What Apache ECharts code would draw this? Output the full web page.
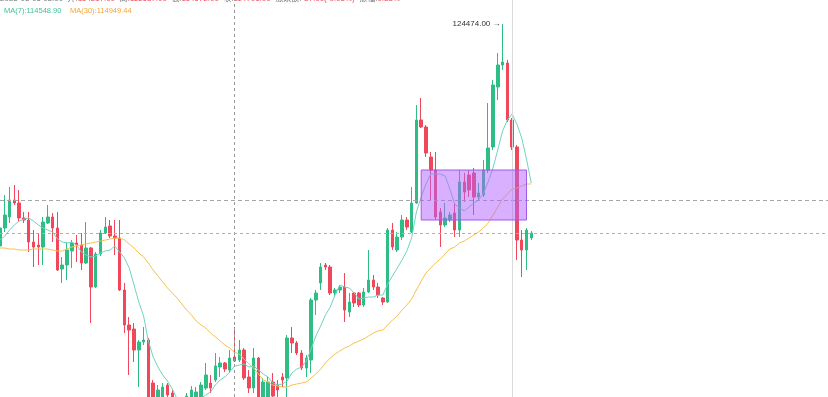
<!DOCTYPE html>
<html>
<head>
<meta charset="utf-8">
<title>K线</title>
<script src="https://cdn.jsdelivr.net/npm/echarts@6/dist/echarts.min.js"></script>
<style>
  html, body { margin: 0; padding: 0; background: #fff; }
  #kline { width: 828px; height: 397px; }
</style>
</head>
<body>
<div id="kline"></div>
<script>
// 4小时K线 [开, 收, 低, 高]
const candles = [
  [118036, 118558, 117920, 118732], [118558, 118935, 118442, 119515], [118877, 119370, 118703, 119747],
  [119370, 119283, 119225, 119805], [119283, 118848, 118732, 119660], [118848, 118790, 118703, 119022],
  [118790, 118152, 117862, 119022], [118152, 118007, 117427, 118500], [118065, 118007, 117485, 118413],
  [118007, 118732, 117485, 118877], [118703, 118877, 118674, 119225], [118877, 118558, 118152, 118993],
  [118558, 117340, 117311, 119022], [117369, 117485, 116963, 117717], [117485, 117920, 117050, 118152],
  [117891, 118123, 117398, 118210], [118123, 118065, 117572, 118355], [118065, 117543, 117340, 118413],
  [117543, 117978, 117514, 118732], [117978, 116847, 115803, 118007], [116847, 117804, 116818, 117862],
  [117804, 118413, 117746, 118500], [118413, 118587, 118384, 118877], [118616, 118326, 118268, 118790],
  [118326, 118268, 117775, 118790], [118268, 116760, 116731, 118790], [116760, 115745, 115513, 116963],
  [115745, 115600, 114295, 115977], [115629, 115020, 114672, 115803], [115020, 115252, 113947, 115310],
  [115252, 115310, 115165, 115687], [115310, 113280, 113135, 115368], [114063, 113425, 113280, 114150],
  [113425, 113860, 113338, 114005], [113570, 113947, 113512, 114063], [114005, 113715, 113628, 114063],
  [113773, 113628, 113512, 113860], [113570, 113280, 113135, 113628], [113338, 113135, 112990, 113483],
  [113280, 113686, 113222, 113773], [113512, 113860, 113454, 113976], [113570, 113802, 113483, 113947],
  [113570, 114005, 113512, 114092], [113918, 114295, 113860, 114643], [114063, 113918, 113773, 114295],
  [114150, 114556, 114092, 114933], [114527, 114643, 114237, 114817], [114643, 114469, 114382, 114672],
  [114440, 114788, 114353, 115020], [114817, 114701, 114672, 115687], [114730, 115020, 114672, 115310],
  [115020, 114208, 114150, 115078], [114237, 113918, 113773, 114440], [113918, 114788, 113773, 115078],
  [114788, 113570, 113425, 114817], [113570, 114092, 113512, 114208], [113657, 114092, 113599, 114237],
  [114092, 113686, 113628, 114353], [114005, 113860, 113657, 114150], [114237, 114150, 113947, 114353],
  [114208, 115368, 113657, 115455], [115368, 115223, 114933, 115687], [115223, 114933, 114875, 115281],
  [114933, 114498, 114440, 115020], [114498, 114788, 114237, 114875], [114730, 116470, 114353, 116528],
  [116470, 116673, 116035, 116760], [116963, 117427, 116760, 117543], [117485, 117427, 117340, 117543],
  [117427, 116673, 116615, 117485], [116673, 116760, 116557, 116818], [116760, 116847, 116673, 116905],
  [116847, 116180, 115832, 117253], [116122, 116412, 115977, 116673], [116673, 116383, 116267, 116702],
  [116673, 116325, 116267, 116702], [116325, 116702, 116267, 116818], [116702, 117050, 116673, 117920],
  [117050, 116847, 116760, 117195], [116847, 116615, 116528, 116963], [116528, 116412, 116325, 116557],
  [116412, 118500, 116383, 118558], [118500, 118007, 117920, 118703], [117920, 118297, 117862, 118442],
  [118297, 118790, 118210, 118935], [118790, 118587, 118500, 118877], [118442, 119283, 118413, 119747],
  [119283, 121690, 119254, 122125], [121690, 121487, 121458, 122328], [121487, 120733, 120617, 121545],
  [120617, 120240, 119370, 120762], [120240, 118877, 118790, 120762], [119022, 118645, 118007, 119138],
  [118645, 118848, 118587, 119283], [118790, 118935, 118732, 119022], [118993, 118500, 118297, 119283],
  [118500, 119892, 118297, 120240], [119892, 119602, 119312, 120153], [120095, 119660, 119457, 120240],
  [120153, 119457, 118935, 120298], [119457, 119573, 119370, 119863], [119515, 120240, 119457, 120530],
  [120240, 120878, 120153, 122183], [120907, 122705, 120820, 122850], [122647, 123285, 122270, 123633],
  [123285, 123372, 123140, 124474], [123343, 121690, 121632, 123430], [121690, 120907, 120820, 121748],
  [120907, 118210, 117630, 120965], [118210, 117920, 117137, 118500], [117920, 118500, 117340, 118558],
  [118268, 118413, 118210, 118471]
];

const maSeven = [
  118210, 118326, 118500, 118645, 118761, 118819, 118848, 118761, 118645, 118558,
  118500, 118442, 118239, 118152, 118123, 118152, 118065, 117862, 117775, 117717,
  117746, 117833, 117891, 117920, 118036, 117862, 117688, 117398, 116905, 116412,
  116006, 115281, 114817, 114527, 114295, 114121, 113889, 113599, 113570, 113599,
  113599, 113599, 113628, 113715, 113802, 114005, 114150, 114237, 114382, 114548.90,
  114585, 114614, 114527, 114556, 114440, 114324, 114237, 114063, 114005, 114034,
  114121, 114353, 114469, 114527, 114701, 115049, 115426, 115716, 116035, 116267,
  116615, 116905, 116847, 116818, 116673, 116499, 116528, 116557, 116557, 116615,
  116615, 116934, 117166, 117398, 117630, 117891, 118268, 119022, 119457, 119834,
  120124, 120124, 120124, 120066, 119689, 119254, 119138, 119051, 119167, 119283,
  119370, 119573, 119892, 120298, 120820, 121371, 121690, 121864, 121574, 121168,
  120559, 119863
];

const maThirty = [
  117978, 117978, 117949, 117949, 117920, 117920, 117920, 117949, 117949, 117949,
  117949, 117920, 117891, 117891, 117949, 118007, 118036, 118065, 118094, 118123,
  118152, 118181, 118210, 118239, 118268, 118268, 118210, 118094, 117978, 117833,
  117717, 117543, 117340, 117166, 116992, 116818, 116673, 116528, 116354, 116180,
  116035, 115861, 115745, 115658, 115513, 115397, 115281, 115165, 115078, 114949.44,
  114904, 114759, 114614, 114498, 114324, 114150, 114092, 114005, 113976, 113947,
  113947, 114005, 114034, 114063, 114092, 114208, 114324, 114469, 114643, 114788,
  114904, 114991, 115078, 115136, 115223, 115281, 115339, 115426, 115513, 115571,
  115600, 115745, 115890, 116006, 116180, 116325, 116499, 116760, 117021, 117253,
  117398, 117543, 117659, 117804, 117949, 118007, 118123, 118181, 118268, 118355,
  118442, 118558, 118703, 118935, 119167, 119399, 119544, 119689, 119718, 119776,
  119834, 119834
];

const slotCount = 174;      // 右侧留白
const crossIndex = 49;      // 十字光标所在K线
const crossPrice = 119370;  // 十字光标水平价位
const markIndex = 107;      // 竖直标记线
const boxStart = [88, 120240];
const boxEnd = [110, 118790];
const priceMin = 113657;
const priceMax = 125170;

// 时间 2025-07-28 04:00 起，每根4小时
const dates = [];
const t0 = Date.UTC(2025, 6, 28, 4);
const pad = n => (n < 10 ? '0' : '') + n;
for (let i = 0; i < slotCount; i++) {
  let d = new Date(t0 + i * 4 * 3600 * 1000);
  dates.push(d.getUTCFullYear() + '-' + pad(d.getUTCMonth() + 1) + '-' + pad(d.getUTCDate()) + ' ' +
    pad(d.getUTCHours()) + ':' + pad(d.getUTCMinutes()));
}

const upColor = '#2ebd85';
const downColor = '#f0475a';
const font = 'Arial, "Liberation Sans", "Noto Sans CJK SC", sans-serif';

let lastClose = candles[candles.length - 1][1];
let maxIdx = 0;
candles.forEach((c, i) => { if (c[3] > candles[maxIdx][3]) maxIdx = i; });
let maxHigh = candles[maxIdx][3];

// 顶部信息栏（十字光标所在K线）
let cc = candles[crossIndex];
let prevClose = candles[crossIndex - 1][1];
let chg = cc[1] - prevClose;
let infoColor = chg >= 0 ? upColor : downColor;
let info = '{t|' + dates[crossIndex] + '  开:}{v|' + cc[0].toFixed(2) + '}{t|  高:}{v|' + cc[3].toFixed(2) +
  '}{t|  低:}{v|' + cc[2].toFixed(2) + '}{t|  收:}{v|' + cc[1].toFixed(2) + '}{t|  涨跌额:}{v|' + chg.toFixed(2) +
  '(' + (chg / prevClose * 100).toFixed(2) + '%)}{t|  振幅:}{v|' + ((cc[3] - cc[2]) / prevClose * 100).toFixed(2) + '%}';

let chart = echarts.init(document.getElementById('kline'));

let option = {
  animation: false,
  grid: { left: 0, right: 0, top: 0, bottom: 0 },
  xAxis: {
    type: 'category',
    data: dates,
    boundaryGap: false,
    show: false
  },
  yAxis: {
    type: 'value',
    min: priceMin,
    max: priceMax,
    show: false
  },
  series: [{
    name: 'K',
    type: 'candlestick',
    data: candles,
    barWidth: 3,
    clip: true,
    itemStyle: {
      color: upColor,
      color0: downColor,
      borderColor: upColor,
      borderColor0: downColor,
      borderWidth: 1
    },
    markLine: {
      silent: true,
      symbol: ['none', 'none'],
      label: { show: false },
      data: [
        { xAxis: dates[crossIndex], lineStyle: { color: '#999', width: 1, type: [3, 3] } },
        { yAxis: crossPrice, lineStyle: { color: '#a6a6a6', width: 1, type: [4, 3] } },
        { xAxis: dates[markIndex], lineStyle: { color: '#d9d9d9', width: 1, type: 'solid' } },
        { yAxis: lastClose, lineStyle: { color: '#74cdb8', width: 1, type: [3, 3] } }
      ]
    },
    markPoint: {
      silent: true,
      symbol: 'rect',
      symbolSize: 0,
      label: {
        show: true,
        position: 'left',
        distance: 2,
        color: '#333',
        fontSize: 8,
        fontFamily: font,
        formatter: p => p.value.toFixed(2) + ' \u2192'
      },
      data: [{ coord: [dates[maxIdx], maxHigh], value: maxHigh }]
    }
  }, {
    name: 'MA7',
    type: 'line',
    data: maSeven,
    symbol: 'none',
    clip: true,
    lineStyle: { width: 1, color: '#6fd3bf' }
  }, {
    name: 'MA30',
    type: 'line',
    data: maThirty,
    symbol: 'none',
    clip: true,
    lineStyle: { width: 1, color: '#f5c150' }
  }, {
    name: 'box',
    type: 'line',
    data: [],
    z: 10,
    markArea: {
      silent: true,
      z: 10,
      itemStyle: {
        color: 'rgba(178, 98, 255, 0.5)',
        borderColor: '#a25ae8',
        borderWidth: 1
      },
      data: [[
        { coord: [dates[boxStart[0]], boxStart[1]] },
        { coord: [dates[boxEnd[0]], boxEnd[1]] }
      ]]
    }
  }],
  graphic: [{
    type: 'text',
    left: 0,
    top: -5,
    style: {
      text: info,
      rich: {
        t: { fill: '#777', font: '8px ' + font },
        v: { fill: infoColor, font: '8px ' + font }
      }
    }
  }, {
    type: 'text',
    left: 4,
    top: 7,
    style: { text: 'MA(7):' + maSeven[crossIndex].toFixed(2), fill: '#3fbf9c', font: '7.5px ' + font }
  }, {
    type: 'text',
    left: 70,
    top: 7,
    style: { text: 'MA(30):' + maThirty[crossIndex].toFixed(2), fill: '#f3a63a', font: '7.5px ' + font }
  }]
};

chart.setOption(option);
</script>
</body>
</html>
